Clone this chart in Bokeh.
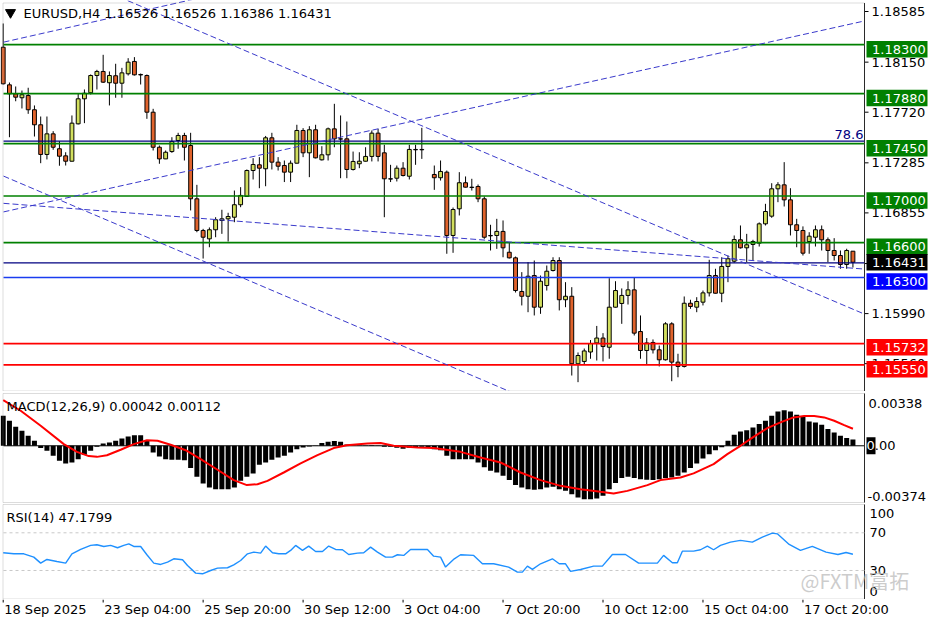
from bokeh.plotting import figure
from bokeh.layouts import column
from bokeh.models import Range1d, BoxAnnotation
from bokeh.core.properties import value
from bokeh.embed import file_html
from bokeh.resources import INLINE

nan = float("nan")

# ---------------- data ----------------
symbol = "EURUSD,H4"

opens = [1.18278, 1.17955, 1.17878, 1.17844, 1.17863, 1.17741, 1.17612, 1.17357, 1.17534, 1.17406,
         1.17345, 1.17299, 1.17620, 1.17835, 1.17887, 1.18035, 1.18070, 1.17973, 1.18033, 1.17969,
         1.18050, 1.18156, 1.18044, 1.18035, 1.17720, 1.17419, 1.17319, 1.17382, 1.17477, 1.17520,
         1.17434, 1.16976, 1.16704, 1.16632, 1.16710, 1.16790, 1.16804, 1.16818, 1.16925, 1.16996,
         1.17219, 1.17268, 1.17234, 1.17500, 1.17291, 1.17262, 1.17205, 1.17282, 1.17563, 1.17371,
         1.17569, 1.17311, 1.17354, 1.17577, 1.17491, 1.17491, 1.17228, 1.17277, 1.17299, 1.17340,
         1.17540, 1.17371, 1.17148, 1.17153, 1.17239, 1.17170, 1.17400, 1.17400, nan, 1.17185,
         1.17157, 1.17205, 1.16661, 1.16890, 1.17114, 1.17076, 1.17082, 1.16976, 1.16661, 1.16661,
         1.16696, 1.16517, 1.16469, 1.16180, 1.16139, 1.16317, 1.16045, 1.16231, 1.16360, 1.16446,
         1.16109, 1.16139, 1.15559, 1.15579, 1.15660, 1.15738, 1.15780, 1.15701, 1.16045, 1.16077,
         1.16146, 1.16194, 1.15836, 1.15673, 1.15742, 1.15679, 1.15593, 1.15902, 1.15573, 1.15536,
         1.16079, 1.16045, 1.16088, 1.16168, 1.16317, 1.16165, 1.16395, 1.16440, 1.16624, 1.16555,
         1.16584, 1.16595, 1.16761, 1.16827, 1.17062, 1.17096, 1.16967, 1.16753, 1.16704, 1.16609,
         1.16646, 1.16710, 1.16624, 1.16532, 1.16489, 1.16412, 1.16526]
highs = [1.18482, 1.17975, 1.17941, 1.17906, 1.17930, 1.17778, 1.17683, 1.17683, 1.17557, 1.17471,
         1.17376, 1.17692, 1.17878, 1.17915, 1.18044, 1.18084, 1.18213, 1.18070, 1.18136, 1.18101,
         1.18184, 1.18193, 1.18052, 1.18044, 1.17749, 1.17434, 1.17391, 1.17505, 1.17543, 1.17543,
         1.17543, 1.17096, 1.16718, 1.16730, 1.16818, 1.16882, 1.16856, 1.17047, 1.17076, 1.17228,
         1.17325, 1.17334, 1.17516, 1.17543, 1.17334, 1.17305, 1.17305, 1.17612, 1.17583, 1.17600,
         1.17612, 1.17428, 1.17588, 1.17792, 1.17692, 1.17640, 1.17382, 1.17376, 1.17419, 1.17563,
         1.17577, 1.17440, 1.17268, 1.17262, 1.17291, 1.17440, 1.17440, 1.17586, nan, 1.17262,
         1.17305, 1.17219, 1.16901, 1.17205, 1.17168, 1.17148, 1.17099, 1.16996, 1.16753, 1.16804,
         1.16790, 1.16603, 1.16480, 1.16346, 1.16432, 1.16446, 1.16317, 1.16403, 1.16474, 1.16474,
         1.16260, 1.16217, 1.15656, 1.15690, 1.15763, 1.15884, 1.15822, 1.16294, 1.16268, 1.16206,
         1.16268, 1.16297, 1.15974, 1.15780, 1.15768, 1.15716, 1.15916, 1.15916, 1.15645, 1.16137,
         1.16109, 1.16131, 1.16188, 1.16452, 1.16375, 1.16474, 1.16489, 1.16661, 1.16747, 1.16675,
         1.16624, 1.16773, 1.16933, 1.17110, 1.17119, 1.17291, 1.17067, 1.16804, 1.16739, 1.16689,
         1.16747, 1.16747, 1.16644, 1.16638, 1.16532, 1.16547, 1.16526]
lows = [1.17958, 1.17505, 1.17814, 1.17752, 1.17706, 1.17511, 1.17282, 1.17314, 1.17397, 1.17260,
        1.17262, 1.17297, 1.17615, 1.17626, 1.17872, 1.17915, 1.17971, 1.17778, 1.17844, 1.17844,
        1.18035, 1.18035, 1.17958, 1.17663, 1.17391, 1.17277, 1.17317, 1.17371, 1.17406, 1.17305,
        1.16876, 1.16689, 1.16463, 1.16560, 1.16646, 1.16675, 1.16609, 1.16775, 1.16904, 1.16992,
        1.17142, 1.17067, 1.17084, 1.17228, 1.17219, 1.17120, 1.17120, 1.17280, 1.17334, 1.17162,
        1.17323, 1.17305, 1.17305, 1.17419, 1.17153, 1.17153, 1.17219, 1.17239, 1.17297, 1.17297,
        1.17297, 1.16818, 1.17120, 1.17125, 1.17168, 1.17142, 1.17268, 1.17319, nan, 1.17053,
        1.17133, 1.16504, 1.16512, 1.16833, 1.17073, 1.17047, 1.16947, 1.16632, 1.16532, 1.16546,
        1.16474, 1.16463, 1.16171, 1.16060, 1.16002, 1.15974, 1.15988, 1.16188, 1.16352, 1.16017,
        1.16045, 1.15458, 1.15401, 1.15553, 1.15602, 1.15587, 1.15579, 1.15602, 1.16042, 1.15902,
        1.16068, 1.15802, 1.15602, 1.15553, 1.15647, 1.15536, 1.15587, 1.15409, 1.15443, 1.15527,
        1.16031, 1.16002, 1.16060, 1.16137, 1.16163, 1.16088, 1.16260, 1.16426, 1.16549, 1.16432,
        1.16446, 1.16566, 1.16747, 1.16813, 1.16947, 1.16910, 1.16661, 1.16560, 1.16489, 1.16504,
        1.16566, 1.16532, 1.16432, 1.16446, 1.16375, 1.16375, 1.16386]
closes = [1.17964, 1.17878, 1.17849, 1.17870, 1.17741, 1.17612, 1.17357, 1.17534, 1.17419, 1.17342,
          1.17299, 1.17626, 1.17835, 1.17883, 1.18035, 1.18070, 1.17978, 1.18035, 1.17969, 1.18058,
          1.18150, 1.18041, 1.18040, 1.17720, 1.17419, 1.17319, 1.17376, 1.17468, 1.17520, 1.17419,
          1.16976, 1.16704, 1.16646, 1.16710, 1.16796, 1.16804, 1.16824, 1.16925, 1.17005, 1.17219,
          1.17271, 1.17239, 1.17500, 1.17291, 1.17256, 1.17205, 1.17282, 1.17563, 1.17371, 1.17569,
          1.17328, 1.17354, 1.17577, 1.17491, 1.17489, 1.17228, 1.17297, 1.17299, 1.17340, 1.17540,
          1.17340, 1.17148, 1.17146, 1.17239, 1.17176, 1.17400, 1.17397, 1.17397, nan, 1.17157,
          1.17211, 1.16661, 1.16884, 1.17114, 1.17076, 1.17073, 1.16976, 1.16646, 1.16658, 1.16696,
          1.16555, 1.16469, 1.16188, 1.16139, 1.16311, 1.16045, 1.16268, 1.16354, 1.16446, 1.16109,
          1.16139, 1.15559, 1.15630, 1.15669, 1.15733, 1.15780, 1.15707, 1.16045, 1.16188, 1.16146,
          1.16194, 1.15822, 1.15673, 1.15738, 1.15679, 1.15593, 1.15902, 1.15573, 1.15536, 1.16079,
          1.16051, 1.16094, 1.16168, 1.16317, 1.16165, 1.16395, 1.16461, 1.16626, 1.16555, 1.16581,
          1.16609, 1.16761, 1.16867, 1.17062, 1.17096, 1.16967, 1.16753, 1.16704, 1.16509, 1.16655,
          1.16710, 1.16624, 1.16532, 1.16489, 1.16412, 1.16532, 1.16431]

macd_main = [0.00198, 0.00165, 0.00125, 0.00099, 0.00066, 0.00033, -0.00015, -0.00033, -0.00066, -0.00099,
             -0.00116, -0.00110, -0.00088, -0.00059, -0.00033, -0.00007, 0.00015, 0.00022, 0.00033, 0.00048,
             0.00062, 0.00070, 0.00070, 0.00033, -0.00044, -0.00070, -0.00088, -0.00092, -0.00092, -0.00095,
             -0.00147, -0.00204, -0.00248, -0.00275, -0.00286, -0.00286, -0.00286, -0.00275, -0.00231, -0.00204,
             -0.00182, -0.00125, -0.00110, -0.00092, -0.00077, -0.00066, -0.00044, -0.00022, -0.00011, -0.00004,
             0.00002, 0.00018, 0.00026, 0.00031, 0.00026, 0.00009, 0.00002, -0.00002, 0.00002, 0.00004,
             -0.00002, -0.00007, -0.00007, -0.00013, -0.00020, -0.00013, -0.00009, -0.00007, -0.00009, -0.00022,
             -0.00029, -0.00066, -0.00088, -0.00088, -0.00088, -0.00088, -0.00110, -0.00141, -0.00165, -0.00176,
             -0.00198, -0.00226, -0.00259, -0.00275, -0.00286, -0.00290, -0.00286, -0.00275, -0.00270, -0.00286,
             -0.00297, -0.00319, -0.00341, -0.00352, -0.00352, -0.00348, -0.00330, -0.00286, -0.00246, -0.00213,
             -0.00204, -0.00213, -0.00220, -0.00224, -0.00226, -0.00220, -0.00213, -0.00209, -0.00198, -0.00176,
             -0.00147, -0.00116, -0.00084, -0.00055, -0.00029, -0.00009, 0.00033, 0.00073, 0.00094, 0.00103,
             0.00121, 0.00143, 0.00165, 0.00198, 0.00226, 0.00235, 0.00226, 0.00204, 0.00191, 0.00160,
             0.00154, 0.00138, 0.00110, 0.00088, 0.00066, 0.00051, 0.00042]

signal_bar = [0, 2.8, 6, 9.7, 11.8, 13.7, 15, 16.6, 18.8, 20.9, 23, 24.7, 26.8, 29.2, 31.6, 34.3, 36.9,
              39, 40.7, 42.3, 44.9, 47.6, 50.3, 52.9, 55, 58.3, 60.4, 62.5, 66.3, 68.9, 73.2, 76.4,
              79.6, 82.8, 86, 89.2, 92.4, 95.6, 97.7, 99.9, 103.1, 105.2, 108.4, 110.5, 113.7, 115.9,
              118, 120.1, 122.3, 124.4, 126.5, 128.2, 129.8, 131.4, 133, 134.6, 136]
signal_val = [0.00301, 0.00231, 0.00132, 0.00011, -0.00040, -0.00068, -0.00073, -0.00062, -0.00026, 0.00011,
              0.00037, 0.00033, 0.00007, -0.00029, -0.00088, -0.00158, -0.00226, -0.00259, -0.00253, -0.00231,
              -0.00176, -0.00116, -0.00062, -0.00015, 0.00004, 0.00015, 0.00018, 0.00000, -0.00011, -0.00015,
              -0.00040, -0.00077, -0.00110, -0.00176, -0.00226, -0.00264, -0.00286, -0.00303, -0.00314, -0.00297,
              -0.00259, -0.00226, -0.00209, -0.00182, -0.00121, -0.00055, 0.00000, 0.00059, 0.00116, 0.00154,
              0.00187, 0.00196, 0.00196, 0.00187, 0.00165, 0.00136, 0.00112]

rsi_bar = [0, 1.7, 3.3, 4.9, 6, 7, 8.6, 10, 11, 12.4, 14, 15, 16.1, 17.2, 18.3, 19.3, 20.1, 20.9, 22, 23,
           24.1, 25.2, 26.3, 27.3, 28.7, 29.5, 30.8, 31.9, 33.2, 34.3, 35.9, 36.9, 38, 39.1, 40.1, 41.2, 42,
           43.1, 44.1, 45.2, 46, 46.8, 47.9, 48.9, 50, 51.1, 52.1, 53.2, 54.3, 55.3, 56.7, 57.7, 58.8, 59.9,
           61.2, 62.3, 63.1, 64.1, 65.2, 67.9, 68.9, 70, 70.8, 72.2, 73.2, 75.3, 76.7, 78.5, 80.9, 82.3, 83.1,
           83.9, 84.7, 86, 87.9, 89, 90, 90.8, 92.4, 94.5, 95.9, 97.5, 99.6, 101.7, 104.7, 105.7, 107.1, 107.9,
           108.7, 110.5, 111.6, 112.7, 113.7, 114.8, 116.4, 118, 119.9, 121.5, 123.1, 123.9, 125.8, 127.6,
           129.5, 131.7, 133.6, 134.9, 136]
rsi_val = [48.8, 47.7, 47.7, 44.2, 37.8, 41.7, 39.6, 37.8, 47.7, 52.3, 56.6, 57.3, 55.5, 56.6, 54.1, 56.6,
           58.3, 55.5, 55.5, 46.7, 37.8, 36.4, 38.9, 42.4, 41.4, 35.3, 27.2, 26.5, 30.0, 32.5, 32.9, 36.0,
           40.6, 47.7, 49.5, 48.4, 55.9, 48.8, 47.7, 47.7, 51.3, 56.6, 51.3, 55.9, 50.2, 50.2, 55.9, 52.3,
           52.0, 47.0, 48.4, 48.8, 54.8, 49.5, 44.2, 44.2, 46.7, 46.0, 52.3, 52.3, 45.2, 44.2, 33.6, 42.4,
           46.7, 46.0, 37.1, 37.1, 33.6, 28.3, 28.3, 34.6, 31.1, 37.1, 42.4, 37.1, 37.1, 29.0, 31.1, 34.6,
           34.6, 47.0, 47.0, 37.8, 37.8, 46.0, 38.2, 38.2, 50.5, 50.5, 52.0, 55.9, 52.0, 56.6, 60.1, 61.9,
           60.1, 65.4, 69.6, 68.9, 57.6, 51.3, 55.5, 49.5, 47.0, 49.1, 47.1799]
rsi_levels = [70, 30]

level_green = [1.18300, 1.17880, 1.17450, 1.17000, 1.16600]
level_navy = [1.17471, 1.16425]
level_blue = [1.16300]
level_red = [1.15732, 1.15550]
fib_label = "78.6"

price_ticks = [1.18585, 1.18150, 1.17720, 1.17285, 1.16855, 1.16420, 1.15990, 1.15560]
tag_prices = [1.18300, 1.17880, 1.17450, 1.17000, 1.16600, 1.16431, 1.16300, 1.15732, 1.15550]

# dashed trend lines: (bar, price) -> (bar, price)
trend_bar0 = [-0.16, 0.0, 19.85, -0.16, -0.16]
trend_px0 = [1.16861, 1.18321, 1.18680, 1.17176, 1.16938]
trend_bar1 = [137.7, 28.4, 137.74, 80.7, 137.2]
trend_px1 = [1.18502, 1.18665, 1.15988, 1.15329, 1.16375]

macd_ticks = [0.00338, 0.0, -0.00374]
rsi_ticks = [100, 70, 30, 0]

time_bar = [0, 16, 32, 48, 64, 80, 96, 112, 128]
time_labels = ["18 Sep 2025", "23 Sep 04:00", "25 Sep 20:00", "30 Sep 12:00", "3 Oct 04:00",
               "7 Oct 20:00", "10 Oct 12:00", "15 Oct 04:00", "17 Oct 20:00"]
watermark = "@FXTM富拓"

# ---------------- layout / style ----------------
W = 936
FRAME_W = 864
BAR_PX = 6.248
H_MAIN, H_MACD, H_RSI, H_TIME = 391, 112, 96, 25
X0 = -2.7 / BAR_PX
X1 = X0 + W / BAR_PX
XB = X0 + FRAME_W / BAR_PX

MAIN_Y = (1.153208, 1.186795)
MACD_Y = (-0.003803, 0.003578)
RSI_Y = (-0.8, 101.1)
TIME_Y = (0.0, float(H_TIME))

FONT = value("DejaVu Sans")
BULL = "#d2df5e"
BEAR = "#e0632c"
GREEN = "#008000"
NAVY = "#000080"
BLUE = "#1a3cf0"
RED = "#ff0000"
TREND = "#3a3acb"
BORDER = "#8a8a8a"

xr = Range1d(X0, X1)


def px2x(px):
    return X0 + px / BAR_PX


def py2y(yr, h, py):
    return yr[1] - py * (yr[1] - yr[0]) / h


def dpx(yr, h, n):
    return n * (yr[1] - yr[0]) / h


def panel(h, yr):
    p = figure(width=W, height=h, x_range=xr, y_range=Range1d(*yr), output_backend="svg",
               toolbar_location=None, x_axis_location=None, y_axis_location=None,
               min_border=0, outline_line_color=None, tools="")
    p.grid.grid_line_color = None
    return p


def frame_box(p, h, yr, top_px, bot_px):
    top = py2y(yr, h, top_px)
    bot = py2y(yr, h, bot_px)
    p.add_layout(BoxAnnotation(left=px2x(2.5), right=XB, top=top, bottom=bot, fill_alpha=0,
                               line_color=BORDER, line_width=1))
    p.segment(x0=[XB], y0=[bot], x1=[XB], y1=[top], line_color="black", line_width=1)


def hlines(p, ys, color, width, dash="solid"):
    p.segment(x0=[px2x(3)] * len(ys), y0=ys, x1=[XB] * len(ys), y1=ys,
              line_color=color, line_width=width, line_dash=dash)


# ---------------- main price panel ----------------
p1 = panel(H_MAIN, MAIN_Y)
frame_box(p1, H_MAIN, MAIN_Y, 2.5, H_MAIN - 0.5)

n = len(closes)
idx = list(range(n))
tops = [max(o, c) for o, c in zip(opens, closes)]
bots = [min(o, c) for o, c in zip(opens, closes)]
colors = [BULL if c >= o else BEAR for o, c in zip(opens, closes)]

p1.segment(x0=idx, y0=lows, x1=idx, y1=highs, line_color="black", line_width=1)
p1.vbar(x=idx, width=0.62, top=tops, bottom=bots, fill_color=colors,
        line_color="black", line_width=1)

hlines(p1, level_green, GREEN, 1.7)
hlines(p1, level_navy, NAVY, 1.2)
hlines(p1, level_blue, BLUE, 1.6)
hlines(p1, level_red, RED, 1.7)

tx0, ty0, tx1, ty1 = [], [], [], []
xl = px2x(3)
for a0, v0, a1, v1 in zip(trend_bar0, trend_px0, trend_bar1, trend_px1):
    s = (v1 - v0) / (a1 - a0)
    tx0.append(xl)
    ty0.append(v0 + s * (xl - a0))
    tx1.append(XB)
    ty1.append(v0 + s * (XB - a0))
p1.segment(x0=tx0, y0=ty0, x1=tx1, y1=ty1, line_color=TREND, line_width=1, line_dash="6 3")

# header
p1.scatter(x=[px2x(10)], y=[py2y(MAIN_Y, H_MAIN, 12)], marker="inverted_triangle", size=10,
           fill_color="black", line_color="black")
header = "%s  %.5f %.5f %.5f %.5f" % (symbol, opens[-1], highs[-1], lows[-1], closes[-1])
p1.text(x=[px2x(23)], y=[py2y(MAIN_Y, H_MAIN, 13.3)], text=[header], text_font=FONT,
        text_font_size="13px", text_align="left", text_baseline="middle", text_color="black")
p1.text(x=[px2x(FRAME_W - 1)], y=[level_navy[0]], text=[fib_label], text_font=FONT,
        text_font_size="13px", text_align="right", text_baseline="bottom", y_offset=-2,
        text_color=NAVY)

# price scale
p1.segment(x0=[XB] * len(price_ticks), y0=price_ticks, x1=[px2x(FRAME_W + 4)] * len(price_ticks),
           y1=price_ticks, line_color="black", line_width=1)
p1.text(x=[px2x(FRAME_W + 7)] * len(price_ticks), y=price_ticks,
        text=["%.5f" % v for v in price_ticks], text_font=FONT, text_font_size="13px",
        text_align="left", text_baseline="middle", text_color="black")

tag_colors = [GREEN] * 5 + ["black", "#0000ff", RED, RED]
tag_shift = [4.5, 4.5, 4.5, 4.5, 4.2, 0, 4, 3.7, 4.5]
tag_y = [v - dpx(MAIN_Y, H_MAIN, s) for v, s in zip(tag_prices, tag_shift)]
p1.rect(x=[px2x(FRAME_W + 32.5)] * len(tag_y), y=tag_y, width=61, height=16.5,
        width_units="screen", height_units="screen", fill_color=tag_colors, line_color=None)
p1.text(x=[px2x(FRAME_W + 7.5)] * len(tag_y), y=tag_y, text=["%.5f" % v for v in tag_prices],
        text_font=FONT, text_font_size="13px", text_align="left", text_baseline="middle",
        text_color="white")

# ---------------- MACD panel ----------------
p2 = panel(H_MACD, MACD_Y)
frame_box(p2, H_MACD, MACD_Y, 2, 111)
hlines(p2, [0.0], "black", 1)
p2.vbar(x=idx, width=0.8, top=macd_main, bottom=0, fill_color="black", line_color=None)
p2.line(x=signal_bar, y=signal_val, line_color=RED, line_width=2)
p2.text(x=[px2x(6)], y=[py2y(MACD_Y, H_MACD, 14.8)],
        text=["MACD(12,26,9) %.5f %.5f" % (macd_main[-1], signal_val[-1])], text_font=FONT,
        text_font_size="13px", text_align="left", text_baseline="middle", text_color="black")
p2.text(x=[px2x(FRAME_W + 4)], y=[macd_ticks[0]], text=["%.5f" % macd_ticks[0]], text_font=FONT,
        text_font_size="13px", text_align="left", text_baseline="top", y_offset=4,
        text_color="black")
p2.text(x=[px2x(FRAME_W + 3)], y=[macd_ticks[2]], text=["%.5f" % macd_ticks[2]], text_font=FONT,
        text_font_size="13px", text_align="left", text_baseline="bottom", y_offset=-2,
        text_color="black")
p2.text(x=[px2x(FRAME_W + 2)], y=[macd_ticks[1]], text=["%.2f" % macd_ticks[1]], text_font=FONT,
        text_font_size="13px", text_align="left", text_baseline="middle", text_color="black")
p2.rect(x=[px2x(FRAME_W + 6.5)], y=[0.0], width=9, height=17, width_units="screen",
        height_units="screen", fill_color="black", line_color=None)
p2.text(x=[px2x(FRAME_W + 2)], y=[0.0], text=["0"], text_font=FONT, text_font_size="13px",
        text_align="left", text_baseline="middle", text_color="white")

# ---------------- RSI panel ----------------
p3 = panel(H_RSI, RSI_Y)
frame_box(p3, H_RSI, RSI_Y, 1, H_RSI - 0.5)
hlines(p3, rsi_levels, "#c8c8c8", 1, "3 3")
p3.line(x=rsi_bar, y=rsi_val, line_color="#1e90ff", line_width=1.4)
p3.text(x=[px2x(6)], y=[py2y(RSI_Y, H_RSI, 13.7)], text=["RSI(14) %.4f" % rsi_val[-1]],
        text_font=FONT, text_font_size="13px", text_align="left", text_baseline="middle",
        text_color="black")
p3.text(x=[px2x(FRAME_W + 5)], y=[rsi_ticks[0]], text=[str(rsi_ticks[0])], text_font=FONT,
        text_font_size="13px", text_align="left", text_baseline="top", y_offset=4,
        text_color="black")
p3.text(x=[px2x(FRAME_W + 5)] * 2, y=rsi_ticks[1:3], text=[str(v) for v in rsi_ticks[1:3]],
        text_font=FONT, text_font_size="13px", text_align="left", text_baseline="middle",
        text_color="black")
p3.text(x=[px2x(FRAME_W + 5)], y=[rsi_ticks[3]], text=[str(rsi_ticks[3])], text_font=FONT,
        text_font_size="13px", text_align="left", text_baseline="bottom", y_offset=-3,
        text_color="black")
p3.text(x=[px2x(800)], y=[19.4], text=[watermark], text_font=value("Noto Sans CJK SC"),
        text_font_size="20px", text_align="left", text_baseline="middle",
        text_color="#bcbcbc", text_alpha=0.75)

# ---------------- time scale ----------------
p4 = panel(H_TIME, TIME_Y)
p4.segment(x0=time_bar, y0=[H_TIME] * len(time_bar), x1=time_bar, y1=[H_TIME - 3] * len(time_bar),
           line_color="black", line_width=1)
p4.text(x=time_bar, y=[H_TIME - 10] * len(time_bar), text=time_labels, text_font=FONT,
        text_font_size="13px", text_align="left", text_baseline="middle", x_offset=1,
        text_color="black")

layout = column(p1, p2, p3, p4, spacing=0)
open("out.html", "w").write(file_html(layout, INLINE))
